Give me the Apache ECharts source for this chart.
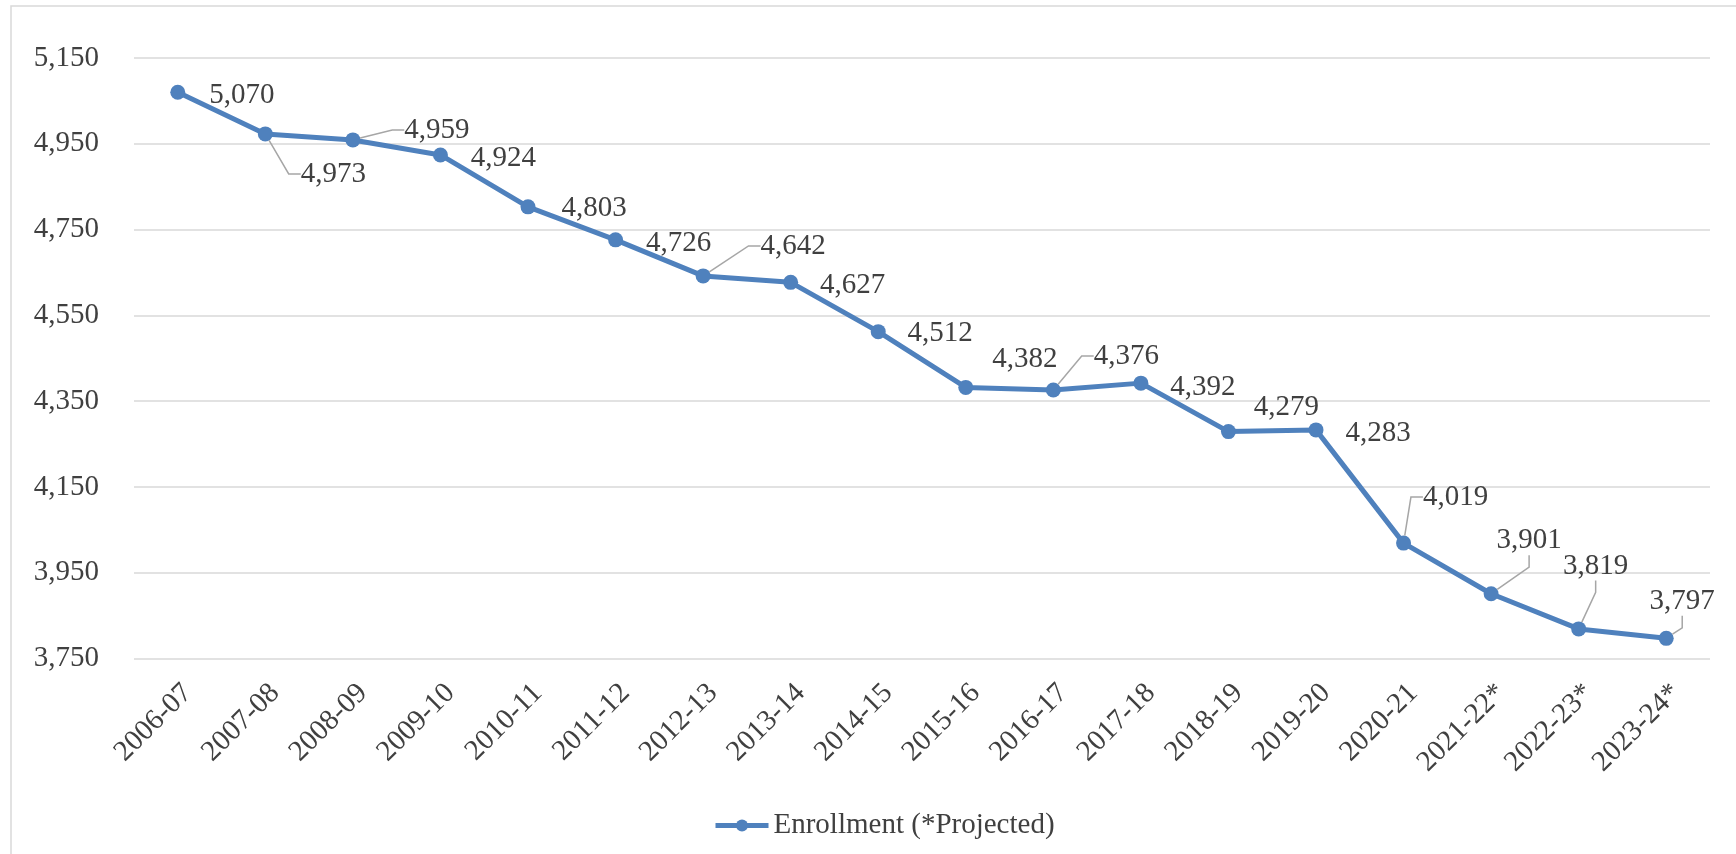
<!DOCTYPE html>
<html>
<head>
<meta charset="utf-8">
<script src="https://cdn.jsdelivr.net/npm/echarts@6/dist/echarts.min.js"></script>
<style>
html,body{margin:0;padding:0;background:#fff;}
#chart{width:1736px;height:854px;}
</style>
</head>
<body>
<div id="chart"></div>
<script>
// ---- Data ----
const categories = ['2006-07','2007-08','2008-09','2009-10','2010-11','2011-12','2012-13','2013-14','2014-15','2015-16','2016-17','2017-18','2018-19','2019-20','2020-21','2021-22*','2022-23*','2023-24*'];
const enrollment = [5070,4973,4959,4924,4803,4726,4642,4627,4512,4382,4376,4392,4279,4283,4019,3901,3819,3797];
const seriesName = 'Enrollment (*Projected)';
const yTicks = { min: 3750, max: 5150, interval: 200 };

// ---- Label layout (offset of label centre from its point, px) ----
const labelDX = [64, 68, 84, 63, 66, 63, 90, 62, 62, 59, 73, 62, 58, 62, 52, 38, 17, 16];
const labelDY = [3, 40, -10, 3, 2, 4, -30, 3, 2, -28, -34, 4, -24, 4, -46, -53, -63, -37];
const leaderIdx = [1, 2, 6, 10, 14, 15, 16, 17];

const FONT = "'Liberation Serif','Times New Roman',serif";
const TXT = '#404040';
const BLUE = '#4f81bd';

const chart = echarts.init(document.getElementById('chart'));
chart.setOption({
  backgroundColor: '#fff',
  animation: false,
  graphic: [{
    type: 'rect', shape: { x: 11, y: 6, width: 1740, height: 900 },
    style: { fill: 'none', stroke: '#d9d9d9', lineWidth: 1.5 }, silent: true, z: -1
  }],
  grid: { left: 134, right: 26, top: 58, bottom: 195.5, containLabel: false },
  legend: {
    left: 708, top: 806,
    itemWidth: 53, itemHeight: 15, itemGap: 10,
    lineStyle: { width: 5 },
    textStyle: { fontFamily: FONT, fontSize: 29, color: TXT },
    data: [seriesName]
  },
  xAxis: {
    type: 'category', data: categories, boundaryGap: true,
    axisLine: { show: false }, axisTick: { show: false },
    axisLabel: { rotate: 45, margin: 40, interval: 0, padding: [0, -14, 0, 0], fontFamily: FONT, fontSize: 29, color: TXT }
  },
  yAxis: {
    type: 'value', min: yTicks.min, max: yTicks.max, interval: yTicks.interval,
    axisLine: { show: false }, axisTick: { show: false },
    splitLine: { lineStyle: { color: '#d9d9d9', width: 1.5 } },
    axisLabel: {
      margin: 35, fontFamily: FONT, fontSize: 29, color: TXT,
      formatter: v => v.toLocaleString('en-US')
    }
  },
  series: [{
    name: seriesName, type: 'line',
    data: enrollment.map((v, i) => ({
      value: v,
      labelLine: { show: leaderIdx.indexOf(i) >= 0 }
    })),
    symbol: 'circle', symbolSize: 15,
    lineStyle: { color: BLUE, width: 5 },
    itemStyle: { color: BLUE },
    label: {
      show: true, position: 'inside',
      fontFamily: FONT, fontSize: 29, color: TXT,
      formatter: p => p.value.toLocaleString('en-US')
    },
    labelLine: { show: true, length2: 12, showAbove: true, lineStyle: { color: '#a6a6a6', width: 1.5 } },
    labelLayout: p => ({ dx: labelDX[p.dataIndex], dy: labelDY[p.dataIndex] })
  }]
});
</script>
</body>
</html>
